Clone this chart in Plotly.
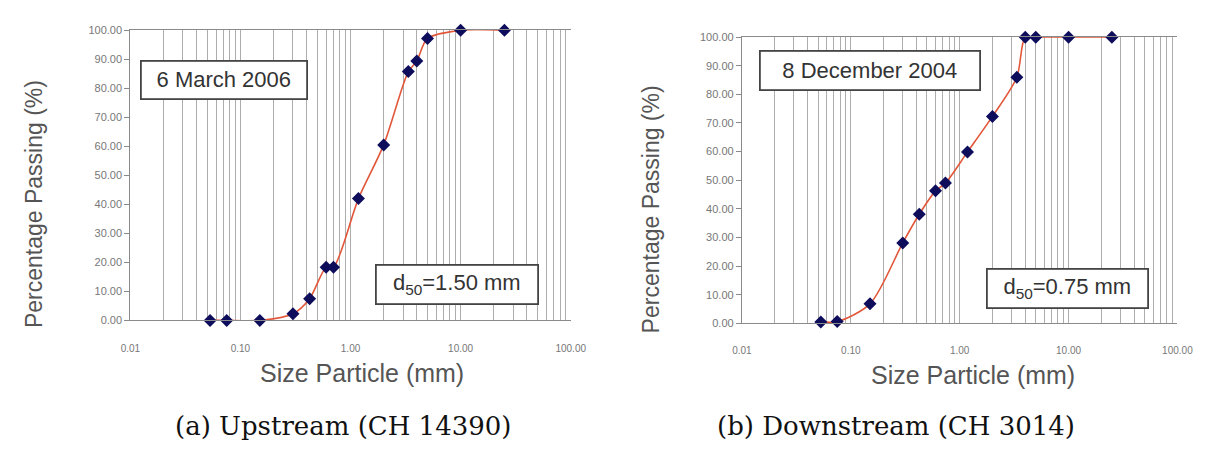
import plotly.graph_objects as go

# ---- data ----
sizes_a = [0.053, 0.075, 0.15, 0.3, 0.425, 0.6, 0.70, 1.18, 2.0, 3.35, 4.0, 5.0, 10.0, 25.0]
pass_a = [0, 0, 0, 2.3, 7.5, 18.3, 18.3, 42.0, 60.5, 85.8, 89.4, 97.2, 100, 100]

sizes_b = [0.053, 0.075, 0.15, 0.3, 0.425, 0.6, 0.74, 1.18, 2.0, 3.35, 4.0, 5.0, 10.0, 25.0]
pass_b = [0.5, 0.6, 6.8, 28.1, 38.1, 46.3, 49.0, 59.9, 72.3, 86.0, 100, 100, 100, 100]

x_tickvals = [0.01, 0.1, 1, 10, 100]
x_ticktext = ["0.01", "0.10", "1.00", "10.00", "100.00"]
y_tickvals = [0, 10, 20, 30, 40, 50, 60, 70, 80, 90, 100]

date_a = "6 March 2006"
date_b = "8 December 2004"
d50_a = "d<sub>50</sub>=1.50 mm"
d50_b = "d<sub>50</sub>=0.75 mm"
caption_a = "(a) Upstream (CH 14390)"
caption_b = "(b) Downstream (CH 3014)"
ytitle = "Percentage Passing (%)"
xtitle = "Size Particle (mm)"

W, H = 1212, 451
LINE = "#e2573a"
MARK = "#0d0d5c"
GRID = "#adadad"
AX = "#8a8a8a"

fig = go.Figure()
for sz, pc, xa, ya in [(sizes_a, pass_a, "x", "y"), (sizes_b, pass_b, "x2", "y2")]:
    fig.add_trace(go.Scatter(
        x=sz, y=pc, xaxis=xa, yaxis=ya, mode="lines+markers",
        line=dict(color=LINE, width=1.6, shape="spline", smoothing=0.8),
        marker=dict(symbol="diamond", size=10, color=MARK),
        cliponaxis=False, showlegend=False))

def px(v):
    return v / W

def py(v):
    return 1 - v / H

xcommon = dict(type="log", range=[-2, 2], tickvals=x_tickvals, ticktext=x_ticktext,
               showgrid=True, gridcolor=GRID, gridwidth=1.4,
               minor=dict(showgrid=True, gridcolor=GRID, gridwidth=1.4, dtick="D1", ticks=""),
               showline=True, linecolor=AX, linewidth=1.2, mirror=True,
               ticks="", ticklabelstandoff=18,
               tickfont=dict(family="Liberation Sans, Arial", size=10, color="#777"),
               zeroline=False)
ycommon = dict(range=[0, 100], tickvals=y_tickvals, tickformat=".2f",
               showgrid=False, showline=True, linecolor=AX, linewidth=1.2,
               ticks="outside", ticklen=5, tickcolor=AX,
               tickfont=dict(family="Liberation Sans, Arial", size=11, color="#777"),
               zeroline=False)

fig.update_layout(
    width=W, height=H, margin=dict(l=0, r=0, t=0, b=0),
    paper_bgcolor="white", plot_bgcolor="white",
    xaxis=dict(domain=[px(123), px(573)], anchor="y", **xcommon),
    yaxis=dict(domain=[py(323), py(25)], anchor="x", **ycommon),
    xaxis2=dict(domain=[px(748), px(1193)], anchor="y2", **xcommon),
    yaxis2=dict(domain=[py(326), py(32)], anchor="x2", **ycommon),
)

ann = []
def box(text, cx, cy, w, h):
    ann.append(dict(text=text, xref="paper", yref="paper", x=px(cx), y=py(cy),
                    xanchor="center", yanchor="middle", showarrow=False,
                    width=w - 6, height=h - 6, borderpad=1, borderwidth=1.8,
                    bordercolor="#444", bgcolor="white",
                    font=dict(family="Liberation Sans, Arial", size=22, color="#333")))

box(date_a, 219, 76, 168, 40)
box(d50_a, 457, 286.5, 164, 41)
box(date_b, 879, 66.5, 222, 41)
box(d50_b, 1080.5, 290.5, 163, 41)

def label(text, cx, cy, size, angle=0, family="Liberation Sans, Arial", color="#555"):
    ann.append(dict(text=text, xref="paper", yref="paper", x=px(cx), y=py(cy),
                    xanchor="center", yanchor="middle", showarrow=False, textangle=angle,
                    font=dict(family=family, size=size, color=color)))

label(ytitle, 24, 203, 23, -90)
label(ytitle, 655, 209, 23, -90)
label(xtitle, 360, 377, 25)
label(xtitle, 984, 379, 25)
label(caption_a, 340, 431, 26, family="DejaVu Serif", color="#111")
label(caption_b, 905, 431, 26, family="DejaVu Serif", color="#111")

fig.update_layout(annotations=ann)
fig.write_html("out.html")
